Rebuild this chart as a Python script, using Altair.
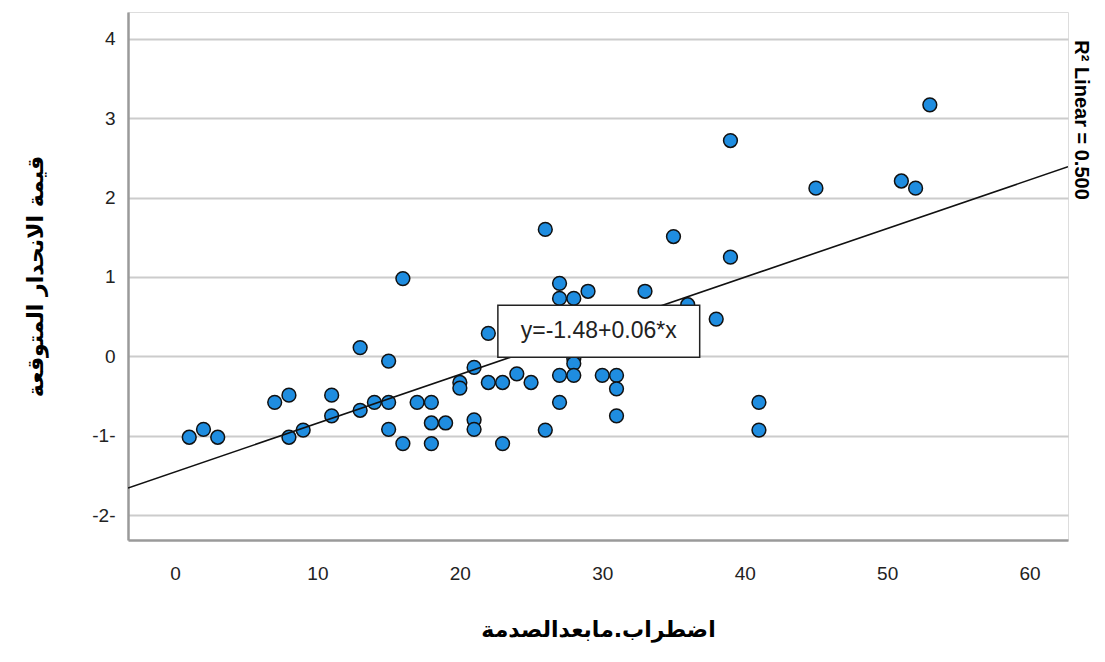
import altair as alt
import pandas as pd

# Scatter data
x_vals = [1, 2, 3, 7, 8, 8, 9, 11, 11, 13, 13, 14, 15, 15, 15, 16, 16, 17, 18, 18, 18, 19,
          20, 20, 21, 21, 21, 22, 22, 23, 23, 24, 25, 26, 26, 27, 27, 27, 27, 28, 28, 28, 28,
          29, 30, 31, 31, 31, 33, 35, 36, 38, 39, 39, 41, 41, 45, 51, 52, 53]
y_vals = [-1.02, -0.92, -1.02, -0.58, -0.49, -1.02, -0.93, -0.49, -0.75, 0.11, -0.68, -0.58,
          -0.06, -0.58, -0.92, 0.98, -1.10, -0.58, -0.58, -0.84, -1.10, -0.84,
          -0.33, -0.40, -0.14, -0.80, -0.92, 0.29, -0.33, -0.33, -1.10, -0.22, -0.33,
          1.60, -0.93, 0.92, 0.73, -0.24, -0.58, 0.73, -0.03, -0.09, -0.24,
          0.82, -0.24, -0.24, -0.41, -0.75, 0.82, 1.51, 0.65, 0.47, 2.72, 1.25,
          -0.58, -0.93, 2.12, 2.21, 2.12, 3.17]

# Fit line endpoints
fit_x = [-3.3, 62.7]
fit_y = [-1.66, 2.39]

y_ticks = [-2, -1, 0, 1, 2, 3, 4]
x_ticks = [0, 10, 20, 30, 40, 50, 60]

x_title = "اضطراب.مابعدالصدمة"
y_title = "قيمة الانحدار المتوقعة"
eq_text = "y=-1.48+0.06*x"
r2_text = "R² Linear = 0.500"

X_DOM = [-3.3, 62.7]
Y_DOM = [-2.315, 4.34]

pts = pd.DataFrame({"x": x_vals, "y": y_vals})
fit = pd.DataFrame({"x": fit_x, "y": fit_y})
box = pd.DataFrame({"x": [22.67], "x2": [36.84], "y": [0.643], "y2": [-0.013],
                    "tx": [29.75], "ty": [0.315], "t": [eq_text]})

xs = alt.Scale(domain=X_DOM, nice=False, zero=False)
ys = alt.Scale(domain=Y_DOM, nice=False, zero=False)

base_x = alt.X("x:Q", scale=xs, axis=alt.Axis(
    values=x_ticks, title=x_title, grid=False, ticks=False, domain=True,
    domainColor="#9a9a9a", domainWidth=2.5, labelFontSize=19, labelColor="#222",
    labelFont="Liberation Sans", labelPadding=24, titleFontSize=22, titleFont="DejaVu Sans",
    titleFontWeight="bold", titleColor="#000", titlePadding=36))
base_y = alt.Y("y:Q", scale=ys, axis=alt.Axis(
    values=y_ticks, title=y_title, grid=True, gridColor="#cccccc", gridWidth=2,
    ticks=False, domain=True, domainColor="#9a9a9a", domainWidth=2.5,
    labelFontSize=19, labelColor="#222", labelFont="Liberation Sans", labelPadding=13,
    labelExpr="datum.value < 0 ? datum.value + '-' : '' + datum.value",
    titleFontSize=22, titleFont="DejaVu Sans", titleFontWeight="bold", titleColor="#000",
    titlePadding=44))

points = alt.Chart(pts).mark_point(
    shape="circle", filled=True, size=190, fill="#1f8de0", stroke="#111",
    strokeWidth=1.5, opacity=1).encode(x=base_x, y=base_y)

line = alt.Chart(fit).mark_line(color="#111", strokeWidth=1.6, clip=True).encode(
    x=alt.X("x:Q", scale=xs), y=alt.Y("y:Q", scale=ys))

rect = alt.Chart(box).mark_rect(fill="white", stroke="#222", strokeWidth=1.5).encode(
    x=alt.X("x:Q", scale=xs), x2="x2:Q", y=alt.Y("y:Q", scale=ys), y2="y2:Q")

eq = alt.Chart(box).mark_text(font="Liberation Sans", fontSize=23, color="#222",
                              align="center", baseline="middle").encode(
    x=alt.X("tx:Q", scale=xs), y=alt.Y("ty:Q", scale=ys), text="t:N")

r2 = alt.Chart(pd.DataFrame({"t": [r2_text]})).mark_text(
    font="Liberation Sans", fontSize=20, fontWeight="bold", color="#000", angle=90,
    align="center", baseline="middle").encode(
    x=alt.value(953), y=alt.value(108), text="t:N")

chart = alt.layer(points, line, rect, eq, r2).properties(
    width=940, height=528,
    autosize=alt.AutoSizeParams(type="none"),
    padding={"left": 120, "top": 4, "right": 29, "bottom": 108},
).configure_view(stroke=None).configure(background="white")

chart.save("out.html", embed_options={"renderer": "svg", "actions": False})
